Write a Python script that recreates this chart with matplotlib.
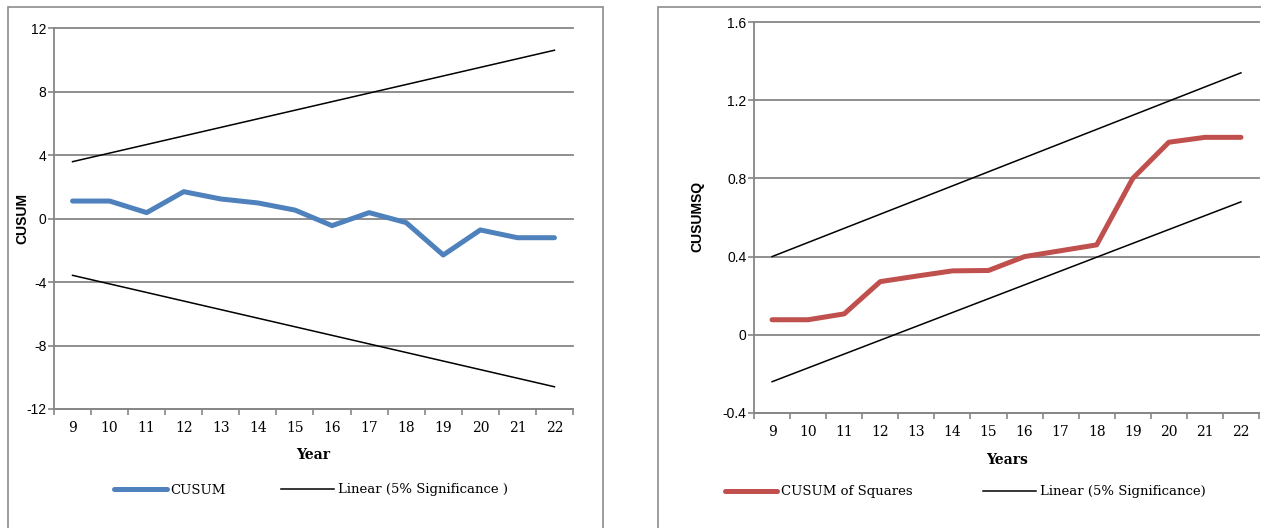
import matplotlib
matplotlib.use("Agg")
import matplotlib.pyplot as plt
from matplotlib.patches import Rectangle

# ---- data ----
years = [9, 10, 11, 12, 13, 14, 15, 16, 17, 18, 19, 20, 21, 22]
cusum = [1.1, 1.1, 0.37, 1.69, 1.23, 0.98, 0.53, -0.45, 0.37, -0.26, -2.3, -0.72, -1.21, -1.21]
cusum_upper = [3.58, 10.6]
cusum_lower = [-3.58, -10.6]
cusumsq = [0.077, 0.077, 0.107, 0.272, 0.30, 0.327, 0.329, 0.40, 0.43, 0.46, 0.80, 0.985, 1.01, 1.01]
sq_upper = [0.40, 1.34]
sq_lower = [-0.24, 0.68]
bound_years = [9, 22]

W, H = 1261, 528
SERIF = "DejaVu Serif"
SANS = "Liberation Sans"
GRID = "#868686"
BLUE = "#4F81BD"
RED = "#C0504D"

fig = plt.figure(figsize=(W / 100, H / 100), dpi=100)


def px_axes(left, top, right, bottom):
    return fig.add_axes([left / W, 1 - bottom / H, (right - left) / W, (bottom - top) / H])


def style_axes(ax, yticks, ylim, fmt):
    ax.set_xlim(8.5, 22.5)
    ax.set_ylim(*ylim)
    ax.set_yticks(yticks)
    ax.set_yticklabels([fmt(v) for v in yticks], family=SANS, fontsize=10)
    ax.set_xticks([y + 0.5 for y in [8] + years])
    ax.set_xticklabels([])
    ax.set_xticks(years, minor=True)
    ax.set_xticklabels([str(y) for y in years], minor=True, family=SERIF, fontsize=10)
    ax.tick_params(axis="x", which="major", length=4, color=GRID, width=1.2)
    ax.tick_params(axis="x", which="minor", length=0, pad=9)
    ax.tick_params(axis="y", length=4, color=GRID, width=1.2, pad=1.5)
    ax.grid(axis="y", color=GRID, linewidth=1.3)
    for gl in ax.get_ygridlines():
        gl.set_clip_on(False)
    ax.set_axisbelow(True)
    for side in ["top", "right"]:
        ax.spines[side].set_visible(False)
    for side in ["left", "bottom"]:
        ax.spines[side].set_color(GRID)
        ax.spines[side].set_linewidth(1.3)


# panel borders
fig.patches.append(Rectangle((8 / W, -0.01), 595 / W, 1 - 7 / H + 0.01, transform=fig.transFigure,
                             fill=False, edgecolor="#8c8c8c", linewidth=1.2))
fig.patches.append(Rectangle((658 / W, -0.01), 0.5, 1 - 7 / H + 0.01, transform=fig.transFigure,
                             fill=False, edgecolor="#8c8c8c", linewidth=1.2))

legend_font = {"family": SERIF, "size": 9.5}

# ---- left: CUSUM ----
ax1 = px_axes(54, 28, 573, 409)
style_axes(ax1, [-12, -8, -4, 0, 4, 8, 12], (-12, 12), lambda v: f"{v:d}")
ax1.plot(years, cusum, color=BLUE, linewidth=3.6, solid_capstyle="round", solid_joinstyle="round", label="CUSUM")
ax1.plot(bound_years, cusum_upper, color="black", linewidth=1.1, label="Linear (5% Significance )")
ax1.plot(bound_years, cusum_lower, color="black", linewidth=1.1)
fig.text(22 / W, 1 - 219 / H, "CUSUM", rotation=90, ha="center", va="center",
         family=SANS, fontweight="bold", fontsize=10)
fig.text(313 / W, 1 - 455 / H, "Year", ha="center", va="center", family=SERIF, fontweight="bold", fontsize=10)
ax1.legend(loc="center", bbox_to_anchor=(311 / W, 1 - 490 / H), bbox_transform=fig.transFigure,
           ncol=2, frameon=False, prop=legend_font, handlelength=4.0,
           handletextpad=0.3, columnspacing=4.2)

# ---- right: CUSUM of squares ----
ax2 = px_axes(754, 22, 1259, 413)
style_axes(ax2, [-0.4, 0, 0.4, 0.8, 1.2, 1.6], (-0.4, 1.6), lambda v: "0" if v == 0 else f"{v:.1f}")
ax2.plot(years, cusumsq, color=RED, linewidth=3.6, solid_capstyle="round", solid_joinstyle="round",
         label="CUSUM of Squares")
ax2.plot(bound_years, sq_upper, color="black", linewidth=1.1, label="Linear (5% Significance)")
ax2.plot(bound_years, sq_lower, color="black", linewidth=1.1)
fig.text(697 / W, 1 - 216 / H, "CUSUMSQ", rotation=90, ha="center", va="center",
         family=SANS, fontweight="bold", fontsize=10)
fig.text(1007 / W, 1 - 460 / H, "Years", ha="center", va="center", family=SERIF, fontweight="bold", fontsize=10)
ax2.legend(loc="center", bbox_to_anchor=(965 / W, 1 - 492 / H), bbox_transform=fig.transFigure,
           ncol=2, frameon=False, prop=legend_font, handlelength=4.0,
           handletextpad=0.3, columnspacing=5.3)

fig.savefig("out.png", dpi=100)
